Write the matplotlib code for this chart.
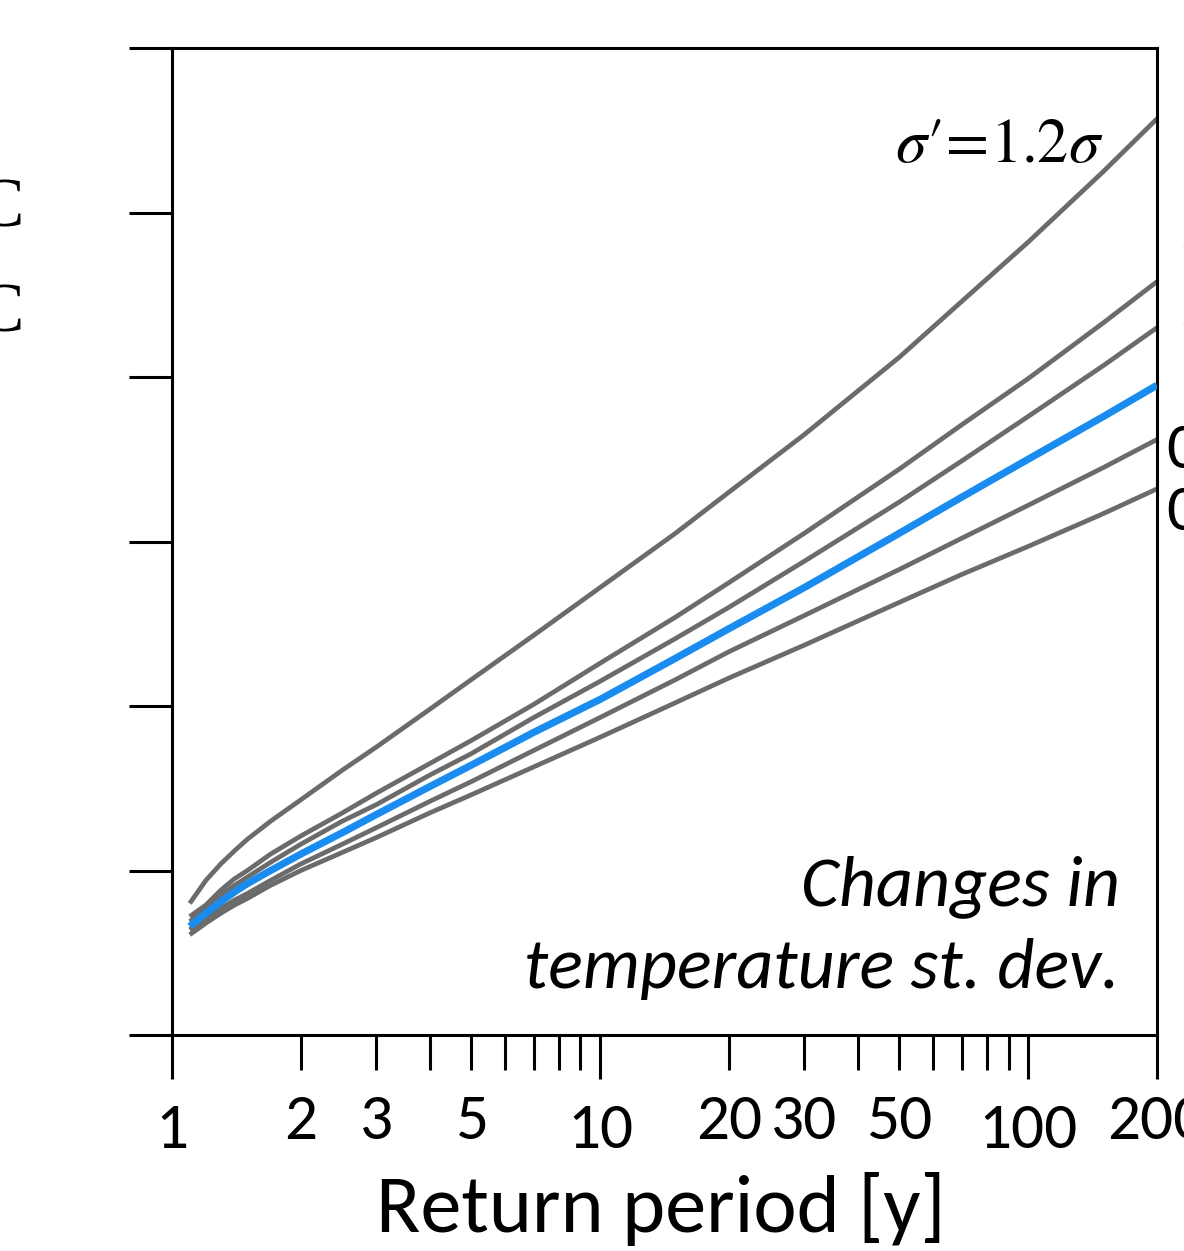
import matplotlib
matplotlib.use("Agg")
import matplotlib.pyplot as plt
from matplotlib import font_manager

# return periods [y] where curves were read
return_period = [1.1, 1.2, 1.3, 1.4, 1.5, 1.7, 2, 2.5, 3, 4, 5, 7, 10, 15, 20,
                 30, 50, 70, 100, 150, 200]

# return level for each changed st. dev. (arbitrary units, 0..6 axis)
sigma_120 = [0.80, 0.94, 1.04, 1.12, 1.19, 1.30, 1.43, 1.61, 1.75, 1.98, 2.16,
             2.43, 2.72, 3.05, 3.30, 3.65, 4.12, 4.46, 4.82, 5.25, 5.57]
sigma_110 = [0.72, 0.79, 0.88, 0.95, 1.00, 1.10, 1.21, 1.35, 1.47, 1.65, 1.79,
             2.01, 2.26, 2.54, 2.75, 3.05, 3.44, 3.71, 3.99, 4.33, 4.58]
sigma_105 = [0.69, 0.76, 0.85, 0.91, 0.96, 1.05, 1.16, 1.30, 1.40, 1.58, 1.71,
             1.93, 2.15, 2.41, 2.60, 2.88, 3.24, 3.49, 3.76, 4.07, 4.30]
sigma_100 = [0.66, 0.74, 0.81, 0.87, 0.92, 1.00, 1.10, 1.23, 1.34, 1.51, 1.64,
             1.84, 2.04, 2.29, 2.47, 2.72, 3.05, 3.27, 3.50, 3.76, 3.95]
sigma_095 = [0.64, 0.71, 0.77, 0.82, 0.86, 0.94, 1.04, 1.16, 1.26, 1.42, 1.54,
             1.73, 1.93, 2.16, 2.33, 2.55, 2.83, 3.02, 3.22, 3.45, 3.62]
sigma_090 = [0.61, 0.68, 0.74, 0.79, 0.83, 0.91, 1.00, 1.11, 1.20, 1.35, 1.46,
             1.63, 1.81, 2.02, 2.17, 2.37, 2.63, 2.80, 2.97, 3.17, 3.32]

grey_curves = [sigma_120, sigma_110, sigma_105, sigma_095, sigma_090]

major_ticks = [1, 10, 100, 200]
minor_ticks = [2, 3, 4, 5, 6, 7, 8, 9, 20, 30, 40, 50, 60, 70, 80, 90]
low_labels = [1, 10, 100]
high_labels = [2, 3, 5, 20, 30, 50, 200]
y_ticks = [0, 1, 2, 3, 4, 5, 6]

# labels cut off at the right edge of the picture
right_labels = ["1.1σ", "1.05σ", "0.95σ", "0.9σ"]
right_label_y = [261, 338, 450, 512]
right_label_x = [1177, 1177, 1166, 1166]

available = {f.name for f in font_manager.fontManager.ttflist}
sans = "Carlito" if "Carlito" in available else "Lato"
plt.rcParams["font.family"] = [sans, "DejaVu Sans"]
plt.rcParams["mathtext.fontset"] = "stix"

W, H = 1184, 1251
fig = plt.figure(figsize=(W / 100, H / 100), dpi=100)
ax = fig.add_axes([172 / W, 1 - 1035 / H, (1157 - 172) / W, (1035 - 48) / H])

for curve in grey_curves:
    ax.plot(return_period, curve, color="#6b6b6b", lw=3.4,
            solid_joinstyle="round", solid_capstyle="butt")
ax.plot(return_period, sigma_100, color="#1a8cf0", lw=5.2,
        solid_joinstyle="round", solid_capstyle="butt", zorder=3)

ax.set_xscale("log")
ax.set_xlim(1, 200)
ax.set_ylim(0, 6)

for s in ax.spines.values():
    s.set_linewidth(2.2)
    s.set_color("black")

ax.set_yticks(y_ticks)
ax.set_yticklabels([])
ax.tick_params(axis="y", direction="out", length=31, width=2.2, color="black")

ax.xaxis.set_major_locator(matplotlib.ticker.FixedLocator(major_ticks))
ax.xaxis.set_minor_locator(matplotlib.ticker.FixedLocator(minor_ticks))
ax.xaxis.set_major_formatter(matplotlib.ticker.NullFormatter())
ax.xaxis.set_minor_formatter(matplotlib.ticker.NullFormatter())
ax.tick_params(axis="x", which="major", direction="out", length=32, width=2.2)
ax.tick_params(axis="x", which="minor", direction="out", length=25, width=2.2)

xt = ax.get_xaxis_transform()
for v in low_labels:
    ax.text(v, -0.1145, str(v), transform=xt, ha="center", va="baseline",
            fontsize=47, clip_on=False)
for v in high_labels:
    ax.text(v, -0.1054, str(v), transform=xt, ha="center", va="baseline",
            fontsize=47, clip_on=False)

fig.text(661 / W, 1 - 1232 / H, "Return period [y]", ha="center", va="baseline",
         fontsize=59)

ax.text(0.962, 0.132, "Changes in", transform=ax.transAxes, ha="right",
        va="baseline", fontsize=52, style="italic")
ax.text(0.962, 0.048, "temperature st. dev.", transform=ax.transAxes, ha="right",
        va="baseline", fontsize=52, style="italic")

ax.text(0.945, 0.902, r"$\sigma\prime\!=\!1.2\sigma$", transform=ax.transAxes,
        ha="right", va="center", fontsize=45)

for lbl, px, py in zip(right_labels, right_label_x, right_label_y):
    fig.text(px / W, 1 - py / H, lbl, ha="left", va="center", fontsize=47)
# clipped axis label at the left edge
for py in [210, 315]:
    fig.text(0, 1 - py / H, "C", ha="center", va="center", fontsize=50,
             family="Liberation Serif")

fig.savefig("out.png", dpi=100)
